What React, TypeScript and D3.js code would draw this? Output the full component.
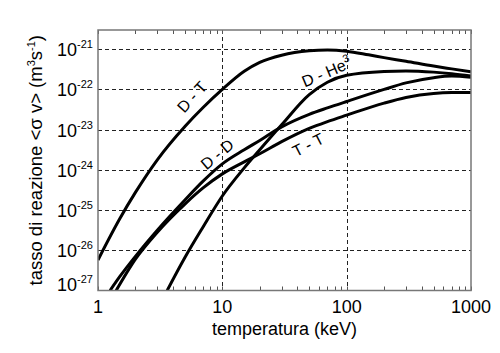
import { useEffect, useRef } from "react";
import * as d3 from "d3";

// temperature (keV) and reaction rate <sigma v> (m^3/s)
const dtTemp = [1, 1.5, 2, 3, 5, 7, 10, 15, 20, 30, 50, 70, 100, 150, 200, 300, 500, 700, 1000];
const dtRate = [5.75e-27, 6.17e-26, 2.75e-25, 1.78e-24, 1.2e-23, 3.55e-23, 1.0e-22, 2.82e-22, 4.68e-22, 7.08e-22, 9.12e-22, 9.55e-22, 8.91e-22, 7.24e-22, 6.17e-22, 5.01e-22, 3.8e-22, 3.24e-22, 2.75e-22];

const ddTemp = [1.25, 1.5, 2, 3, 5, 7, 10, 15, 20, 30, 50, 70, 100, 200, 300, 500, 700, 1000];
const ddRate = [1.0e-27, 2.24e-27, 7.08e-27, 3.16e-26, 1.78e-25, 5.25e-25, 1.41e-24, 3.16e-24, 5.37e-24, 1.17e-23, 2.4e-23, 3.47e-23, 5.01e-23, 1.0e-22, 1.45e-22, 1.95e-22, 2.14e-22, 2.0e-22];

const dhe3Temp = [3.6, 5, 7, 10, 15, 20, 30, 50, 70, 100, 200, 300, 500, 700, 1000];
const dhe3Rate = [1.0e-27, 6.61e-27, 3.8e-26, 2.24e-25, 1.12e-24, 3.16e-24, 1.32e-23, 7.41e-23, 1.51e-22, 2.24e-22, 2.79e-22, 2.88e-22, 2.69e-22, 2.45e-22, 2.14e-22];

const ttTemp = [1.4, 2, 3, 5, 7, 10, 15, 20, 30, 50, 70, 100, 200, 300, 500, 700, 1000];
const ttRate = [1.0e-27, 6.03e-27, 2.82e-26, 1.41e-25, 3.55e-25, 7.94e-25, 1.58e-24, 2.51e-24, 5.01e-24, 1.07e-23, 1.58e-23, 2.29e-23, 4.57e-23, 6.31e-23, 7.94e-23, 8.32e-23, 8.32e-23];

const xTickValues = [1, 10, 100, 1000];
const yExponents = [-21, -22, -23, -24, -25, -26, -27];

// curve labels, anchored in data space
const curveLabels = [
  { name: "D - T", sup: "", t: 5.7, r: 6.5e-23, angle: -48 },
  { name: "D - D", sup: "", t: 9.1, r: 2.45e-24, angle: -40 },
  { name: "D - He", sup: "3", t: 69, r: 2.7e-22, angle: -23 },
  { name: "T - T", sup: "", t: 49, r: 4.2e-24, angle: -27 },
];

const FONT = "'Liberation Sans', Arial, Helvetica, sans-serif";

function App() {
  const ref = useRef<HTMLDivElement>(null);

  useEffect(() => {
    const container = d3.select(ref.current);
    container.selectAll("*").remove();

    const width = 500;
    const height = 353;
    const left = 98;
    const right = 471;
    const top = 30;
    const bottom = 290.5;

    const svg = container
      .append("svg")
      .attr("width", width)
      .attr("height", height)
      .style("position", "absolute")
      .style("left", "0px")
      .style("top", "0px")
      .style("background", "#fff")
      .style("font-family", FONT);

    const x = d3.scaleLog().domain([1, 1000]).range([left, right]);
    const y = d3.scaleLog().domain([1e-27, 3e-21]).range([bottom, top]);

    svg
      .append("defs")
      .append("clipPath")
      .attr("id", "plotclip")
      .append("rect")
      .attr("x", left)
      .attr("y", top)
      .attr("width", right - left)
      .attr("height", bottom - top);

    // dashed grid
    const grid = svg.append("g").attr("stroke", "#222").attr("stroke-width", 1).attr("stroke-dasharray", "4,3");
    yExponents
      .filter((e) => e > -27)
      .forEach((e) => {
        const yy = Math.round(y(Math.pow(10, e))) + 0.5;
        grid.append("line").attr("x1", left).attr("x2", right).attr("y1", yy).attr("y2", yy);
      });
    [10, 100].forEach((v) => {
      const xx = Math.round(x(v)) + 0.5;
      grid.append("line").attr("x1", xx).attr("x2", xx).attr("y1", top).attr("y2", bottom);
    });

    // minor ticks top and bottom
    const ticks = svg.append("g").attr("stroke", "#555").attr("stroke-width", 1);
    x.ticks().forEach((v) => {
      const xx = Math.round(x(v)) + 0.5;
      ticks.append("line").attr("x1", xx).attr("x2", xx).attr("y1", bottom).attr("y2", bottom - 4);
      ticks.append("line").attr("x1", xx).attr("x2", xx).attr("y1", top).attr("y2", top + 4);
    });

    // curves
    const line = d3
      .line<[number, number]>()
      .x((d) => x(d[0]))
      .y((d) => y(d[1]))
      .curve(d3.curveMonotoneX);

    const series: [number[], number[]][] = [
      [dtTemp, dtRate],
      [ddTemp, ddRate],
      [dhe3Temp, dhe3Rate],
      [ttTemp, ttRate],
    ];
    const curves = svg.append("g").attr("clip-path", "url(#plotclip)");
    series.forEach(([ts, rs]) => {
      const pts = ts.map((t, i) => [t, rs[i]] as [number, number]);
      curves
        .append("path")
        .attr("d", line(pts))
        .attr("fill", "none")
        .attr("stroke", "#000")
        .attr("stroke-width", 3)
        .attr("stroke-linejoin", "round");
    });

    // frame
    svg
      .append("rect")
      .attr("x", left)
      .attr("y", top)
      .attr("width", right - left)
      .attr("height", bottom - top)
      .attr("fill", "none")
      .attr("stroke", "#777")
      .attr("stroke-width", 1.5);

    // curve labels
    curveLabels.forEach((l) => {
      const t = svg
        .append("text")
        .attr("transform", `translate(${x(l.t)},${y(l.r)}) rotate(${l.angle})`)
        .attr("text-anchor", "middle")
        .attr("dy", "0.35em")
        .attr("font-size", 16)
        .attr("fill", "#000")
        .text(l.name);
      if (l.sup) {
        t.append("tspan").attr("dy", -7).attr("font-size", 11).text(l.sup);
      }
    });

    // y tick labels
    yExponents.forEach((e) => {
      const yy = y(Math.pow(10, e)) + (e === -27 ? 0 : 7);
      const t = svg
        .append("text")
        .attr("x", 93)
        .attr("y", yy)
        .attr("text-anchor", "end")
        .attr("font-size", 18)
        .attr("fill", "#000")
        .text("10");
      t.append("tspan").attr("dy", -8).attr("font-size", 11).text(String(e));
    });

    // x tick labels
    xTickValues.forEach((v) => {
      svg
        .append("text")
        .attr("x", x(v))
        .attr("y", bottom + 22)
        .attr("text-anchor", "middle")
        .attr("font-size", 18)
        .attr("fill", "#000")
        .text(String(v));
    });

    // axis titles
    svg
      .append("text")
      .attr("x", (left + right) / 2)
      .attr("y", 335)
      .attr("text-anchor", "middle")
      .attr("font-size", 18)
      .attr("fill", "#000")
      .text("temperatura (keV)");

    const yl = svg
      .append("text")
      .attr("transform", `translate(42,${(top + bottom) / 2}) rotate(-90)`)
      .attr("text-anchor", "middle")
      .attr("font-size", 18.5)
      .attr("fill", "#000");
    yl.append("tspan").text("tasso di reazione <σ v> (m");
    yl.append("tspan").attr("dy", -7).attr("font-size", 11).text("3");
    yl.append("tspan").attr("dy", 7).text("s");
    yl.append("tspan").attr("dy", -7).attr("font-size", 11).text("-1");
    yl.append("tspan").attr("dy", 7).text(")");
  }, []);

  return <div ref={ref} />;
}

export default App;
